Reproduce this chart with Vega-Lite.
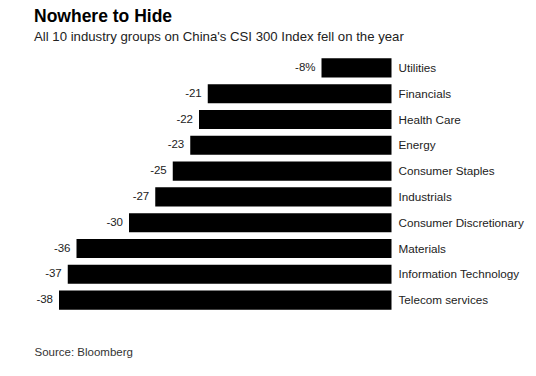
{
  "$schema": "https://vega.github.io/schema/vega-lite/v6.json",
  "width": 332.5,
  "height": 258,
  "autosize": "none",
  "padding": {"left": 59, "top": 55, "right": 144.5, "bottom": 63},
  "background": "white",
  "config": {"view": {"stroke": null}, "font": "Liberation Sans"},
  "title": {
    "text": "Nowhere to Hide",
    "subtitle": "All 10 industry groups on China's CSI 300 Index fell on the year",
    "anchor": "start",
    "frame": "group",
    "dx": -25,
    "offset": 12,
    "font": "Liberation Sans",
    "fontSize": 17.5,
    "fontWeight": "bold",
    "color": "#000000",
    "subtitleFont": "Liberation Sans",
    "subtitleFontSize": 13.2,
    "subtitleColor": "#222222",
    "subtitlePadding": 5
  },
  "data": {
    "values": [
      {"sector": "Utilities", "value": -8, "label": "-8%"},
      {"sector": "Financials", "value": -21, "label": "-21"},
      {"sector": "Health Care", "value": -22, "label": "-22"},
      {"sector": "Energy", "value": -23, "label": "-23"},
      {"sector": "Consumer Staples", "value": -25, "label": "-25"},
      {"sector": "Industrials", "value": -27, "label": "-27"},
      {"sector": "Consumer Discretionary", "value": -30, "label": "-30"},
      {"sector": "Materials", "value": -36, "label": "-36"},
      {"sector": "Information Technology", "value": -37, "label": "-37"},
      {"sector": "Telecom services", "value": -38, "label": "-38"}
    ]
  },
  "encoding": {
    "y": {
      "field": "sector",
      "type": "nominal",
      "sort": null,
      "axis": null,
      "scale": {"paddingInner": 0.26, "paddingOuter": 0.13}
    }
  },
  "layer": [
    {
      "mark": {"type": "bar", "color": "#000000"},
      "encoding": {
        "x": {
          "field": "value",
          "type": "quantitative",
          "scale": {"domain": [-38, 0], "nice": false, "zero": true},
          "axis": {
            "labels": false,
            "ticks": false,
            "domain": false,
            "grid": false,
            "title": "Source: Bloomberg",
            "titleAnchor": "start",
            "titleAlign": "left",
            "titleX": -25,
            "titleY": 33,
            "titleFont": "Liberation Sans",
            "titleFontSize": 11.5,
            "titleFontWeight": "normal",
            "titleColor": "#333333"
          }
        }
      }
    },
    {
      "mark": {"type": "text", "align": "right", "baseline": "middle", "dx": -6, "fontSize": 11.5, "color": "#222222"},
      "encoding": {
        "x": {"field": "value", "type": "quantitative"},
        "text": {"field": "label"}
      }
    },
    {
      "mark": {"type": "text", "align": "left", "baseline": "middle", "dx": 7, "fontSize": 11.7, "color": "#222222"},
      "encoding": {
        "x": {"datum": 0, "type": "quantitative"},
        "text": {"field": "sector"}
      }
    }
  ]
}
